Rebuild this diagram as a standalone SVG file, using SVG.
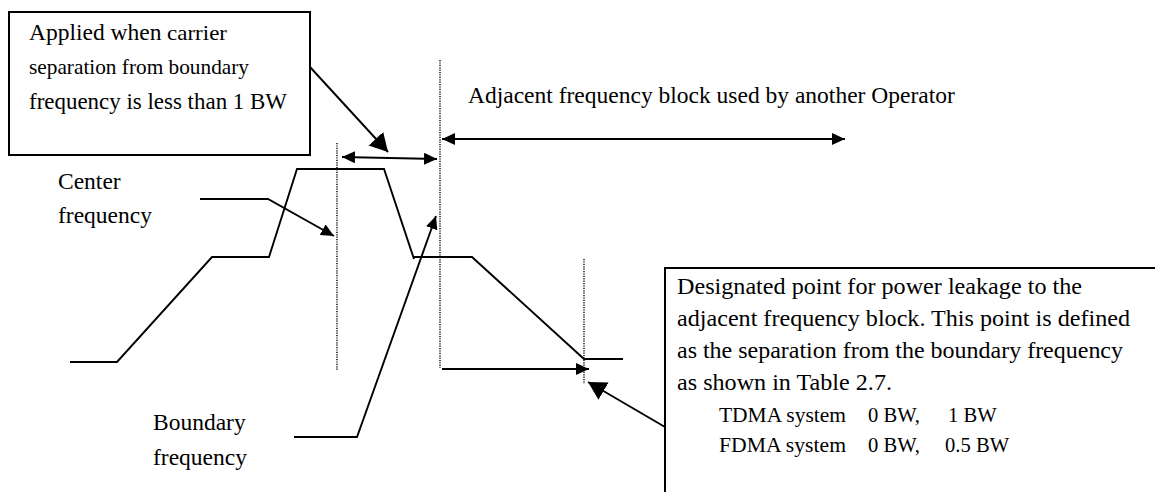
<svg xmlns="http://www.w3.org/2000/svg" width="1155" height="492" viewBox="0 0 1155 492">
<style>
.ln{fill:none;stroke:#000;stroke-width:1.9}
.dot{fill:none;stroke:#000;stroke-width:1.4;stroke-dasharray:1.2 1.2}
.box{fill:#fff;stroke:#000;stroke-width:2}
.t{font-family:"Liberation Serif","Times New Roman",serif;font-size:23.5px;fill:#000}
.s{font-size:20.6px}
</style>
<defs>
<marker id="ah" viewBox="0 0 13 12" refX="13" refY="6" markerWidth="13" markerHeight="12" orient="auto-start-reverse" markerUnits="userSpaceOnUse"><path d="M0,0 L13,6 L0,12 z" fill="#000"/></marker>
<marker id="ahb" viewBox="0 0 18 20" refX="18" refY="10" markerWidth="18" markerHeight="20" orient="auto" markerUnits="userSpaceOnUse"><path d="M0,0 L18,10 L0,20 z" fill="#000"/></marker>
</defs>
<rect width="1155" height="492" fill="#fff"/>
<g id="spectrum">
<polyline class="ln" points="70,362 117,362 212,257 269,257 297,169 384,169 414,259"/>
<polyline class="ln" points="414,257 472,257 584,359 623,359"/>
</g>
<g id="markers">
<line class="dot" x1="337" y1="143" x2="337" y2="370"/>
<line class="dot" x1="440" y1="60" x2="440" y2="368"/>
<line class="dot" x1="584" y1="259" x2="584" y2="384"/>
</g>
<g id="note-applied">
<rect class="box" x="9" y="12" width="301" height="143"/>
<text class="t" x="29" y="40">Applied when</text>
<text class="t s" x="167" y="40" textLength="60" lengthAdjust="spacingAndGlyphs">carrier</text>
<text class="t s" x="29" y="74" textLength="220" lengthAdjust="spacingAndGlyphs">separation from boundary</text>
<text class="t" x="29" y="109" textLength="258" lengthAdjust="spacingAndGlyphs">frequency is less than 1 BW</text>
</g>
<g id="label-adjacent">
<text class="t" x="468" y="103">Adjacent frequency block used by another Operator</text>
</g>
<g id="label-center">
<text class="t" x="58" y="189">Center</text>
<text class="t" x="58" y="223">frequency</text>
</g>
<g id="label-boundary">
<text class="t" x="153" y="430">Boundary</text>
<text class="t" x="153" y="465">frequency</text>
</g>
<g id="note-designated">
<rect class="box" x="665" y="268" width="600" height="300"/>
<text class="t" x="677" y="294" textLength="405" lengthAdjust="spacingAndGlyphs">Designated point for power leakage to the</text>
<text class="t" x="677" y="326" textLength="453" lengthAdjust="spacingAndGlyphs">adjacent frequency block. This point is defined</text>
<text class="t" x="677" y="358" textLength="446" lengthAdjust="spacingAndGlyphs">as the separation from the boundary frequency</text>
<text class="t" x="677" y="390" textLength="215" lengthAdjust="spacingAndGlyphs">as shown in Table 2.7.</text>
<text class="t s" x="719" y="422" textLength="127" lengthAdjust="spacingAndGlyphs">TDMA system</text>
<text class="t s" x="868" y="422">0 BW,</text>
<text class="t s" x="948" y="422">1 BW</text>
<text class="t s" x="719" y="452" textLength="127" lengthAdjust="spacingAndGlyphs">FDMA system</text>
<text class="t s" x="868" y="452">0 BW,</text>
<text class="t s" x="945" y="452">0.5 BW</text>
</g>
<g id="connectors">
<line class="ln" x1="310" y1="67" x2="388" y2="152" marker-end="url(#ahb)"/>
<line class="ln" x1="342" y1="157" x2="437" y2="159" marker-start="url(#ah)" marker-end="url(#ah)"/>
<line class="ln" x1="442" y1="139" x2="845" y2="139" marker-start="url(#ah)" marker-end="url(#ah)"/>
<polyline class="ln" points="200,199 268,199 334,236" marker-end="url(#ah)"/>
<polyline class="ln" points="294,437 357,437 436,216" marker-end="url(#ah)"/>
<line class="ln" x1="442" y1="369" x2="589" y2="369" marker-end="url(#ah)"/>
<line class="ln" x1="665" y1="427" x2="588" y2="382" marker-end="url(#ahb)"/>
</g>
</svg>
